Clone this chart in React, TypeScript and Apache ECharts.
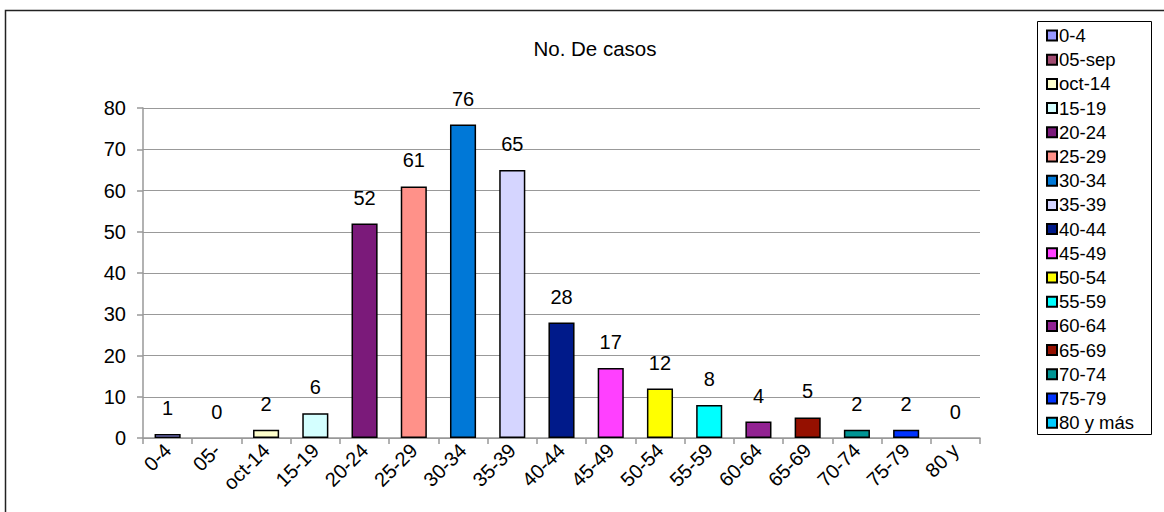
import React, { useEffect, useRef } from "react";
import * as echarts from "echarts";

// Age groups (legend names) and the shortened tick labels under the axis
const ageGroups = [
  "0-4", "05-sep", "oct-14", "15-19", "20-24", "25-29", "30-34", "35-39",
  "40-44", "45-49", "50-54", "55-59", "60-64", "65-69", "70-74", "75-79", "80 y más",
];
const tickLabels = [
  "0-4", "05-", "oct-14", "15-19", "20-24", "25-29", "30-34", "35-39",
  "40-44", "45-49", "50-54", "55-59", "60-64", "65-69", "70-74", "75-79", "80 y",
];
const cases = [1, 0, 2, 6, 52, 61, 76, 65, 28, 17, 12, 8, 4, 5, 2, 2, 0];
const groupColors = [
  "#9999FF", "#A14B71", "#FFFFCC", "#D4FFFF", "#7B1A7A", "#FF9189", "#0078D7", "#D5D5FF",
  "#001A8A", "#FF40FF", "#FFFF00", "#00FFFF", "#922292", "#951000", "#009595", "#0033FF", "#00CCFF",
];
const yTicks = { min: 0, max: 80, interval: 10 };

const FONT = "'Liberation Sans', Arial, sans-serif";

export default function App() {
  const ref = useRef<HTMLDivElement>(null);

  useEffect(() => {
    document.body.style.margin = "0";
    if (!ref.current) return;
    const chart = echarts.init(ref.current, undefined, { renderer: "svg" });

    const series = ageGroups.map((name, i) => ({
      name,
      type: "bar",
      stack: "casos",
      barWidth: "53%",
      itemStyle: { color: groupColors[i], borderColor: "#000", borderWidth: 1.5 },
      label: {
        show: true,
        position: "top",
        distance: 16,
        color: "#000",
        fontSize: 20,
        fontFamily: FONT,
      },
      data: cases.map((v, j) =>
        j === i ? (v === 0 ? { value: v, itemStyle: { borderWidth: 0 } } : v) : null
      ),
    }));

    chart.setOption({
      animation: false,
      backgroundColor: "#fff",
      textStyle: { fontFamily: FONT },
      grid: { left: 143, right: 184, top: 108, bottom: 74 },
      legend: {
        orient: "vertical",
        left: 1046,
        top: 26,
        padding: 0,
        itemWidth: 10,
        itemHeight: 10,
        itemGap: 5.2,
        icon: "rect",
        itemStyle: { borderColor: "#000", borderWidth: 2 },
        textStyle: { fontSize: 18.5, color: "#000", fontFamily: FONT, lineHeight: 18, padding: [0, 0, 0, -3] },
        data: ageGroups,
      },
      xAxis: {
        type: "category",
        data: tickLabels,
        axisLine: { lineStyle: { color: "#999", width: 1.5 } },
        axisTick: { show: true, length: 6, lineStyle: { color: "#999", width: 1.5 } },
        axisLabel: {
          rotate: 45,
          interval: 0,
          margin: 9,
          fontSize: 20,
          color: "#000",
          fontFamily: FONT,
        },
      },
      yAxis: {
        type: "value",
        min: yTicks.min,
        max: yTicks.max,
        interval: yTicks.interval,
        axisLine: { show: true, lineStyle: { color: "#999", width: 1.5 } },
        axisTick: { show: true, length: 6, lineStyle: { color: "#999", width: 1.5 } },
        splitLine: { lineStyle: { color: "#999", width: 1.2 } },
        axisLabel: { fontSize: 20, color: "#000", margin: 17, fontFamily: FONT },
      },
      graphic: [
        {
          type: "rect",
          shape: { x: 5.5, y: 10.5, width: 1300, height: 700 },
          style: { fill: "none", stroke: "#222", lineWidth: 1.5 },
          silent: true,
        },
        {
          type: "rect",
          shape: { x: 1037.5, y: 21.5, width: 114, height: 413 },
          style: { fill: "none", stroke: "#000", lineWidth: 1 },
          silent: true,
        },
        {
          type: "text",
          x: 595,
          y: 48,
          style: {
            text: "No. De casos",
            fontSize: 20.5,
            fontFamily: FONT,
            fill: "#000",
            align: "center",
            verticalAlign: "middle",
          },
        },
      ],
      series,
    });

    return () => chart.dispose();
  }, []);

  return <div ref={ref} style={{ width: 1164, height: 512 }} />;
}
